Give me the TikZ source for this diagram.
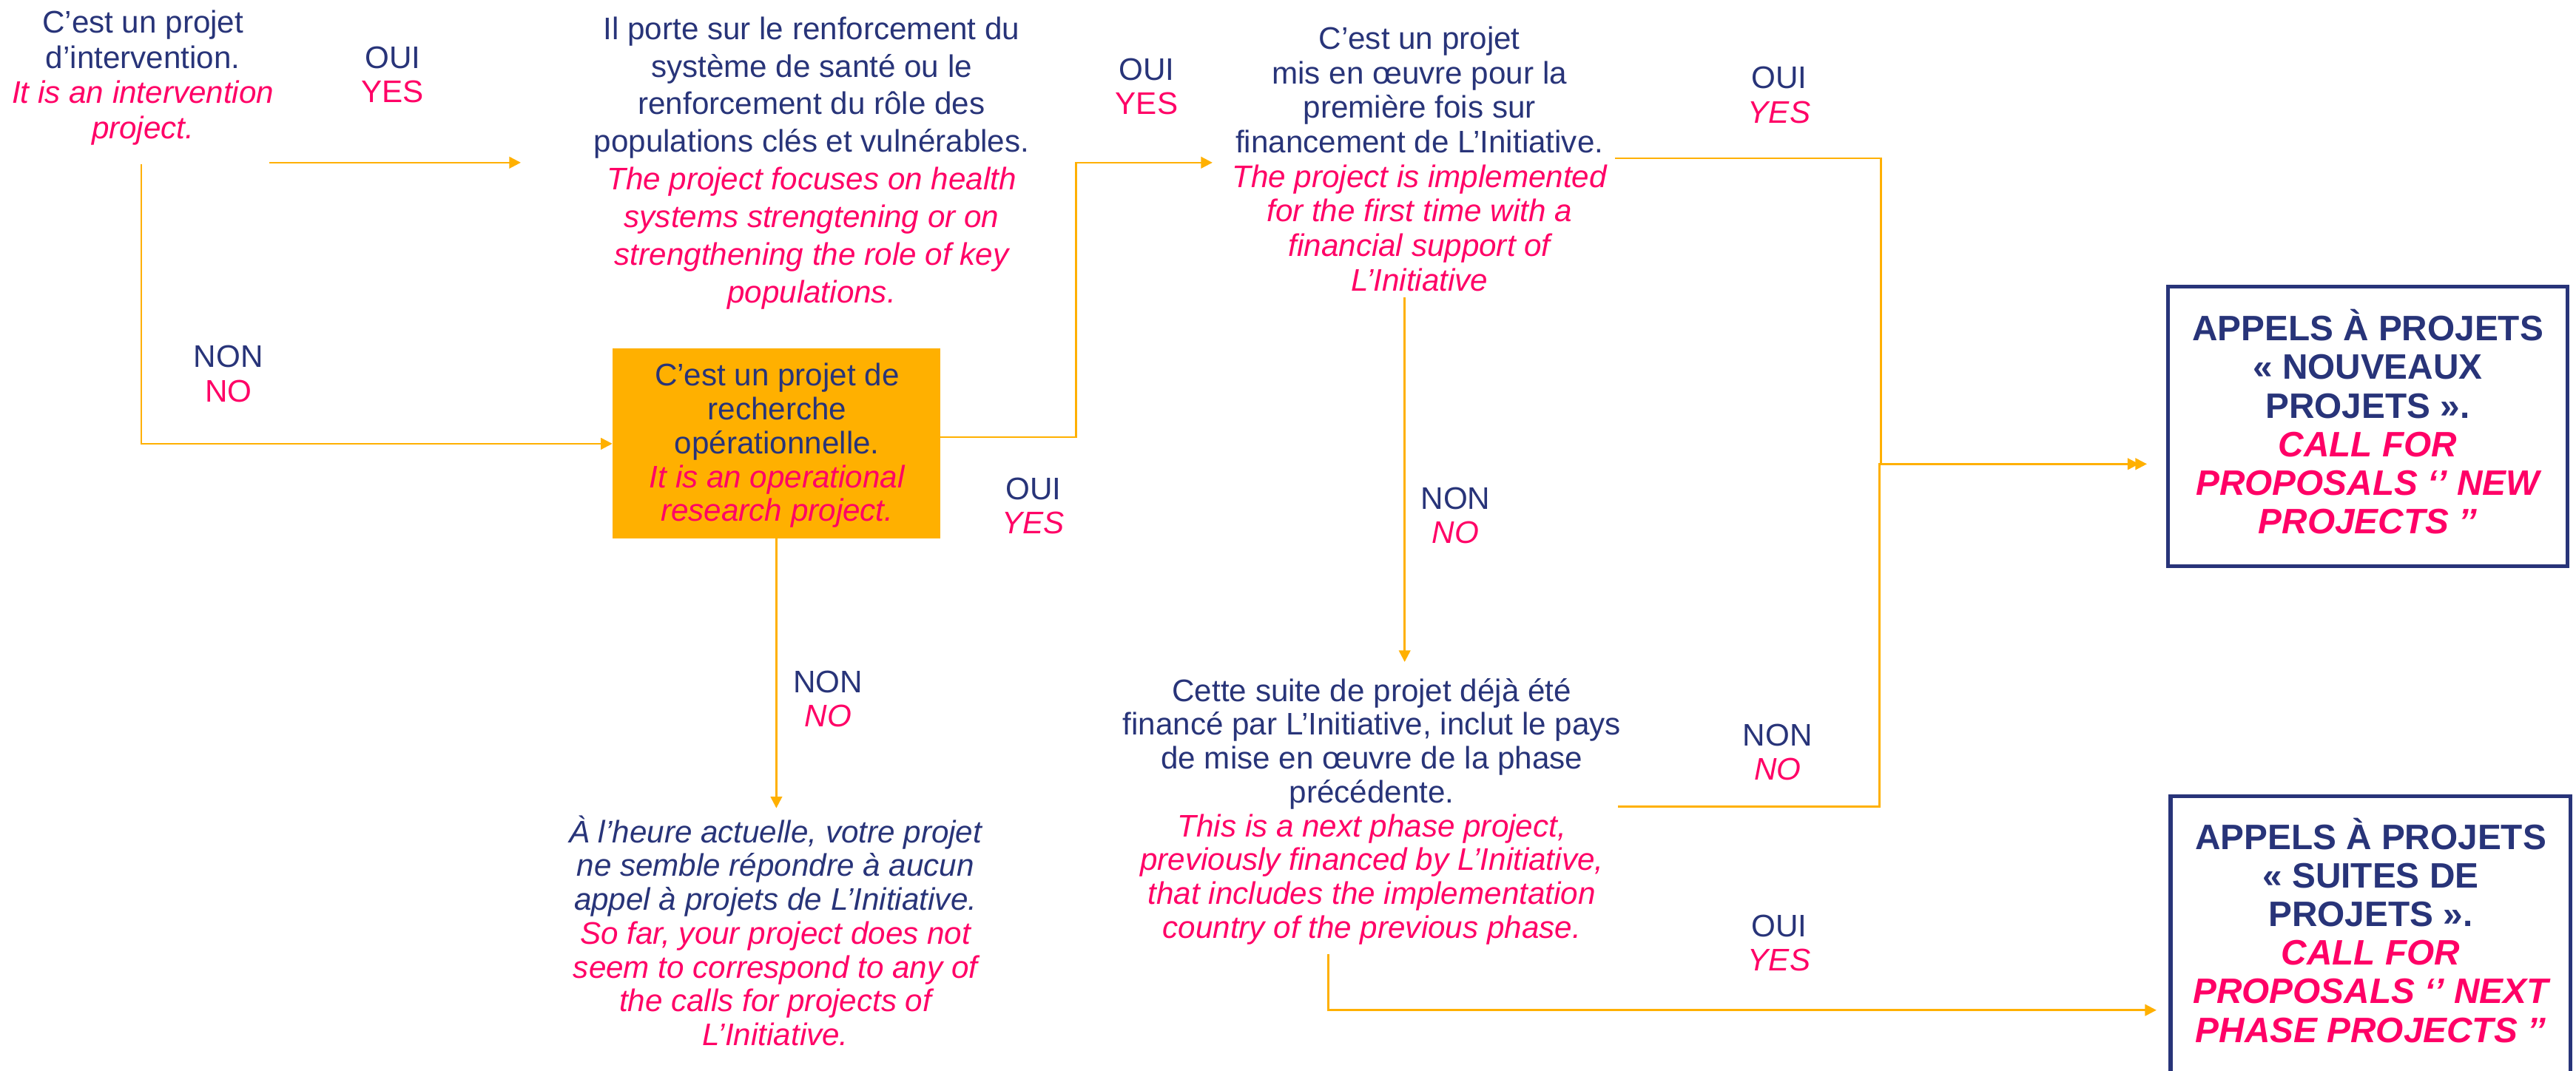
\documentclass[tikz,border=0pt]{standalone}
\usepackage{fontspec}
\setmainfont{Liberation Sans}
\usetikzlibrary{arrows.meta}
\definecolor{navy}{HTML}{283479}
\definecolor{pk}{HTML}{FF0066}
\definecolor{org}{HTML}{FFB000}
\newcommand\blk[1]{\vtop{\lineskiplimit=-100pt\lineskip=0pt\halign{\hfil##\hfil\cr#1\crcr}}}
\newcommand\en[1]{{\color{pk}\itshape #1}}
\newcommand\enr[1]{{\color{pk}#1}}
\begin{document}
\begin{tikzpicture}[x=1pt,y=-1pt,
  txt/.style={inner sep=0pt, anchor=base, text=navy, font=\fontsize{19}{#1}\selectfont},
  txt/.default=21,
  lbl/.style={txt=20.8},
  callbox/.style={draw=navy, line width=2.3pt, minimum width=243.4pt, minimum height=170.3pt, inner sep=0pt, outer sep=0pt},
  calltxt/.style={inner sep=0pt, anchor=base, text=navy, font=\bfseries\fontsize{21.5}{23.5}\selectfont},
  conn/.style={draw=org, line width=1.1pt, -{Triangle[length=7pt,width=7pt]}}]
\useasboundingbox (0,0) rectangle (1568,652);
\fill[white] (0,0) rectangle (1568,652);
\clip (0,0) rectangle (1568,652);

% boxes
\node[fill=org, minimum width=199.7pt, minimum height=115.7pt, inner sep=0pt, outer sep=0pt] (obox) at (472.55,270.15) {};
\node[callbox] (P1) at (1441.2,259.6) {};
\node[callbox] (P2) at (1442.9,569.95) {};

% text blocks
\node[txt=21.5] (A) at (87,20) {\blk{C’est un projet\cr d’intervention.\cr \en{It is an intervention}\cr \en{project.}}};
\node[txt=22.9] (B) at (494,24) {\blk{Il porte sur le renforcement du\cr système de santé ou le\cr renforcement du rôle des\cr populations clés et vulnérables.\cr \en{The project focuses on health}\cr \en{systems strengtening or on}\cr \en{strengthening the role of key}\cr \en{populations.}}};
\node[txt=21] (C) at (864,30) {\blk{C’est un projet\cr mis en œuvre pour la\cr première fois sur\cr financement de L’Initiative.\cr \en{The project is implemented}\cr \en{for the first time with a}\cr \en{financial support of}\cr \en{L’Initiative}}};
\node[txt=20.6] (D) at (473,235) {\blk{C’est un projet de\cr recherche\cr opérationnelle.\cr \en{It is an operational}\cr \en{research project.}}};
\node[txt=20.6] (E) at (835,427) {\blk{Cette suite de projet déjà été\cr financé par L’Initiative, inclut le pays\cr de mise en œuvre de la phase\cr précédente.\cr \en{This is a next phase project,}\cr \en{previously financed by L’Initiative,}\cr \en{that includes the implementation}\cr \en{country of the previous phase.}}};
\node[txt=20.6] (F) at (472,513) {\blk{\itshape À l’heure actuelle, votre projet\cr \itshape ne semble répondre à aucun\cr \itshape appel à projets de L’Initiative.\cr \en{So far, your project does not}\cr \en{seem to correspond to any of}\cr \en{the calls for projects of}\cr \en{L’Initiative.}}};
\node[calltxt] (G) at (1441.2,207.5) {\blk{APPELS À PROJETS\cr « NOUVEAUX\cr PROJETS ».\cr \en{CALL FOR}\cr \en{PROPOSALS ‘’ NEW}\cr \en{PROJECTS ’’}}};
\node[calltxt] (H) at (1443,517) {\blk{APPELS À PROJETS\cr « SUITES DE\cr PROJETS ».\cr \en{CALL FOR}\cr \en{PROPOSALS ‘’ NEXT}\cr \en{PHASE PROJECTS ’’}}};

% yes / no labels
\node[lbl] (L1) at (239,41.6) {\blk{OUI\cr \enr{YES}}};
\node[lbl] (L2) at (139,223.8) {\blk{NON\cr \enr{NO}}};
\node[lbl] (L3) at (698,48.7) {\blk{OUI\cr \enr{YES}}};
\node[lbl] (L4) at (629,304) {\blk{OUI\cr \en{YES}}};
\node[lbl] (L5) at (1083,54) {\blk{OUI\cr \en{YES}}};
\node[lbl] (L6) at (886,310) {\blk{NON\cr \en{NO}}};
\node[lbl] (L7) at (504,421.5) {\blk{NON\cr \en{NO}}};
\node[lbl] (L8) at (1082,454) {\blk{NON\cr \en{NO}}};
\node[lbl] (L9) at (1083,570.4) {\blk{OUI\cr \en{YES}}};

% connector end points
\coordinate (c1s) at (164,99);
\coordinate (c1e) at (317,99);
\coordinate (c2s) at (86,100);
\coordinate (c3m) at (655,99);
\coordinate (c3e) at (738,99);
\coordinate (c4e) at (472.55,492);
\coordinate (c5s) at (983,96.3);
\coordinate (c5m) at (1145,282.5);
\coordinate (c5e) at (1306.8,282.5);
\coordinate (c6s) at (855,181);
\coordinate (c6e) at (855,403);
\coordinate (c7s) at (985,491);
\coordinate (c7m) at (1144,282.5);
\coordinate (c7e) at (1302,282.5);
\coordinate (c8s) at (808.5,581);
\coordinate (c8e) at (1312.6,615);

% connectors
\draw[conn] (c1s) -- (c1e);
\draw[conn] (c2s) |- (obox.west);
\draw[conn] ([yshift=4pt]obox.east) -| (c3m) -- (c3e);
\draw[conn] (obox.south) -- (c4e);
\draw[conn] (c5s) -| (c5m) -- (c5e);
\draw[conn] (c6s) -- (c6e);
\draw[conn] (c7s) -| (c7m) -- (c7e);
\draw[conn] (c8s) |- (c8e);
\end{tikzpicture}
\end{document}
